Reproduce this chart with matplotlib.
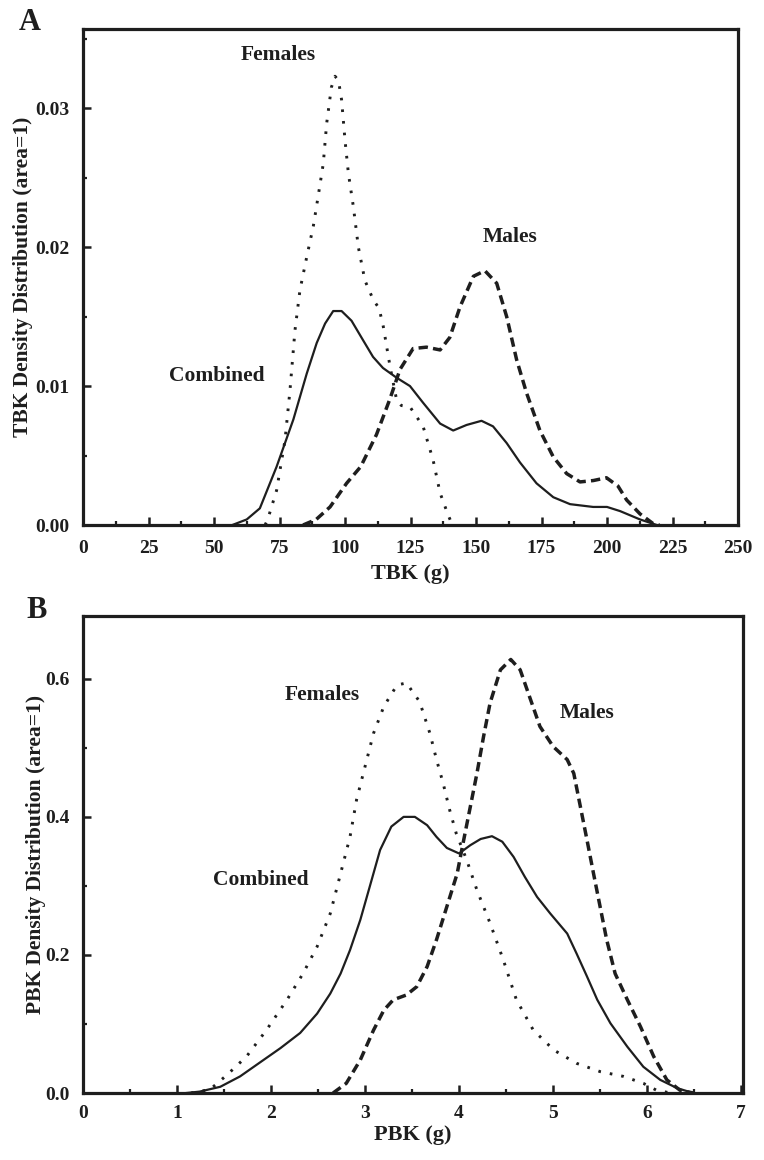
import matplotlib
matplotlib.use("Agg")
import matplotlib.pyplot as plt
from matplotlib.ticker import MultipleLocator, FormatStrFormatter

plt.rcParams['font.family'] = ['Liberation Serif', 'DejaVu Serif']
plt.rcParams['font.weight'] = 'bold'

# ---------------- Panel A data (TBK, g) ----------------
tbk_comb_x = [57, 62.5, 67.5, 73.9, 80.3, 85.4, 89.2, 92.4, 95.5, 98.7, 102.5, 106.9, 110.7,
              114.5, 119.7, 124.8, 129.8, 136.3, 141.3, 146.4, 152.1, 156.5, 161.7, 166.8,
              173.1, 179.5, 185.9, 194.7, 200, 205, 212.6, 219]
tbk_comb_y = [0, 0.0004, 0.0012, 0.0042, 0.0076, 0.0109, 0.0131, 0.0145, 0.0154, 0.0154,
              0.0147, 0.0133, 0.0121, 0.0113, 0.0106, 0.0100, 0.0088, 0.0073, 0.0068, 0.0072,
              0.0075, 0.0071, 0.0059, 0.0045, 0.0030, 0.0020, 0.0015, 0.0013, 0.0013, 0.0010,
              0.0004, 0.0]

tbk_fem_x = [69.5, 70.5, 73.9, 77.1, 79, 80.9, 82.8, 85.4, 87.9, 89.7, 91.7, 93, 94.8, 96.2,
             97.5, 98.7, 100, 101.3, 103.2, 105.1, 107.6, 110.8, 113, 114.6, 117.2, 119.7,
             121.5, 124.8, 129.8, 133.6, 136.3, 139.4, 141]
tbk_fem_y = [0, 0.0004, 0.0025, 0.0061, 0.0097, 0.0140, 0.0169, 0.0193, 0.0215, 0.0236,
             0.0260, 0.0289, 0.0315, 0.0323, 0.0320, 0.0306, 0.0277, 0.0253, 0.0229, 0.0200,
             0.0176, 0.0162, 0.0156, 0.0143, 0.0114, 0.0090, 0.0086, 0.0085, 0.0071, 0.0047,
             0.0023, 0.0007, 0]

tbk_male_x = [84, 89, 94.3, 100.6, 106, 112, 117.2, 121, 126, 131.1, 136.3, 140, 143.9, 149,
              153.4, 157.9, 161.7, 165.5, 169.3, 174.4, 179.5, 184.6, 189.7, 194.8, 199.8,
              204.2, 207.5, 212.6, 217.6, 220]
tbk_male_y = [0, 0.0004, 0.0013, 0.0030, 0.0042, 0.0065, 0.0091, 0.0112, 0.0127, 0.0128,
              0.0126, 0.0135, 0.0157, 0.0179, 0.0183, 0.0174, 0.0150, 0.0119, 0.0095, 0.0068,
              0.0049, 0.0037, 0.0031, 0.0032, 0.0034, 0.0028, 0.0018, 0.0008, 0.0001, 0]

tbk_xticks = [0, 25, 50, 75, 100, 125, 150, 175, 200, 225, 250]
tbk_yticks = [0.00, 0.01, 0.02, 0.03]

# ---------------- Panel B data (PBK, g) ----------------
pbk_comb_x = [1.1, 1.24, 1.46, 1.67, 1.89, 2.10, 2.31, 2.49, 2.63, 2.74, 2.84, 2.95, 3.05,
              3.16, 3.28, 3.41, 3.53, 3.66, 3.76, 3.87, 4.0, 4.12, 4.23, 4.35, 4.46, 4.58,
              4.70, 4.83, 4.97, 5.15, 5.25, 5.36, 5.47, 5.61, 5.79, 5.96, 6.14, 6.32, 6.49]
pbk_comb_y = [0, 0.002, 0.009, 0.024, 0.045, 0.065, 0.087, 0.115, 0.144, 0.173, 0.207, 0.251,
              0.299, 0.352, 0.386, 0.400, 0.400, 0.388, 0.371, 0.355, 0.347, 0.359, 0.368,
              0.372, 0.364, 0.342, 0.313, 0.284, 0.260, 0.231, 0.202, 0.169, 0.135, 0.101,
              0.067, 0.038, 0.019, 0.007, 0]

pbk_fem_x = [1.15, 1.35, 1.53, 1.74, 1.95, 2.17, 2.34, 2.49, 2.63, 2.74, 2.84, 2.91, 3.00,
             3.09, 3.20, 3.34, 3.44, 3.58, 3.69, 3.76, 3.83, 3.90, 3.97, 4.08, 4.19, 4.33,
             4.47, 4.61, 4.79, 5.01, 5.25, 5.50, 5.75, 5.96, 6.10, 6.25]
pbk_fem_y = [0, 0.005, 0.026, 0.053, 0.091, 0.135, 0.173, 0.212, 0.260, 0.318, 0.371, 0.425,
             0.473, 0.521, 0.560, 0.591, 0.594, 0.567, 0.521, 0.483, 0.449, 0.410, 0.376,
             0.338, 0.294, 0.246, 0.193, 0.135, 0.091, 0.062, 0.043, 0.031, 0.024, 0.014,
             0.004, 0]

pbk_male_x = [2.66, 2.80, 2.95, 3.09, 3.20, 3.30, 3.44, 3.55, 3.66, 3.76, 3.87, 3.98, 4.05,
              4.12, 4.19, 4.26, 4.33, 4.44, 4.55, 4.65, 4.76, 4.86, 5.00, 5.15, 5.22, 5.29,
              5.36, 5.43, 5.50, 5.57, 5.66, 5.79, 5.93, 6.07, 6.21, 6.35, 6.49]
pbk_male_y = [0, 0.014, 0.048, 0.091, 0.120, 0.135, 0.142, 0.154, 0.183, 0.222, 0.270, 0.318,
              0.367, 0.415, 0.463, 0.516, 0.565, 0.613, 0.628, 0.613, 0.570, 0.531, 0.502,
              0.483, 0.463, 0.415, 0.367, 0.318, 0.270, 0.222, 0.173, 0.135, 0.096, 0.053,
              0.019, 0.004, 0]

pbk_xticks = [0, 1, 2, 3, 4, 5, 6, 7]
pbk_yticks = [0.0, 0.2, 0.4, 0.6]

INK = '#1e1e1e'
W, H = 764, 1160
fig = plt.figure(figsize=(W / 100, H / 100), dpi=100)

def px_axes(l, t, r, b):
    return fig.add_axes([l / W, 1 - b / H, (r - l) / W, (b - t) / H])

axA = px_axes(83, 29, 738, 525)
axB = px_axes(83, 616, 743, 1093)

solid = dict(color=INK, lw=1.6, ls='-')
dotted = dict(color=INK, lw=2.1, ls=(0, (0.9, 3.1)), dash_capstyle='butt')
dashed = dict(color=INK, lw=2.5, ls=(0, (2.7, 1.5)), dash_capstyle='butt')

lab_kw = dict(fontsize=15.5, fontweight='bold', color=INK, ha='center', va='center')

# Panel A
axA.plot(tbk_comb_x, tbk_comb_y, **solid)
axA.plot(tbk_fem_x, tbk_fem_y, **dotted)
axA.plot(tbk_male_x, tbk_male_y, **dashed)
axA.set_xlim(0, 250)
axA.set_ylim(0, 0.0357)
axA.set_xticks(tbk_xticks)
axA.set_yticks(tbk_yticks)
axA.xaxis.set_minor_locator(MultipleLocator(12.5))
axA.yaxis.set_minor_locator(MultipleLocator(0.005))
axA.yaxis.set_major_formatter(FormatStrFormatter('%.2f'))
axA.set_xlabel('TBK (g)', fontsize=16, fontweight='bold', color=INK, labelpad=5)
axA.set_ylabel('TBK Density Distribution (area=1)', fontsize=15.5, fontweight='bold',
               color=INK, labelpad=1.5)
axA.text(74.4, 0.0338, 'Females', **lab_kw)
axA.text(163, 0.0207, 'Males', **lab_kw)
axA.text(51, 0.0107, 'Combined', **lab_kw)

# Panel B
axB.plot(pbk_comb_x, pbk_comb_y, **solid)
axB.plot(pbk_fem_x, pbk_fem_y, **dotted)
axB.plot(pbk_male_x, pbk_male_y, **dashed)
axB.set_xlim(0, 7.02)
axB.set_ylim(0, 0.691)
axB.set_xticks(pbk_xticks)
axB.set_yticks(pbk_yticks)
axB.xaxis.set_minor_locator(MultipleLocator(0.5))
axB.yaxis.set_minor_locator(MultipleLocator(0.1))
axB.yaxis.set_major_formatter(FormatStrFormatter('%.1f'))
axB.set_xlabel('PBK (g)', fontsize=16, fontweight='bold', color=INK, labelpad=2)
axB.set_ylabel('PBK Density Distribution (area=1)', fontsize=15.5, fontweight='bold',
               color=INK, labelpad=-0.5)
axB.text(2.54, 0.577, 'Females', **lab_kw)
axB.text(5.36, 0.550, 'Males', **lab_kw)
axB.text(1.89, 0.309, 'Combined', **lab_kw)

for ax, xpad in ((axA, 11), (axB, 9)):
    for s in ax.spines.values():
        s.set_linewidth(2.3)
        s.set_color(INK)
    ax.tick_params(which='both', direction='in', top=False, right=False, color=INK,
                   labelcolor=INK)
    ax.tick_params(which='major', length=6, width=1.8, labelsize=14)
    ax.tick_params(axis='y', which='major', pad=9.5)
    ax.tick_params(axis='x', which='major', pad=xpad)
    ax.tick_params(which='minor', length=3, width=1.6)
    for lab in ax.get_xticklabels() + ax.get_yticklabels():
        lab.set_fontweight('bold')

fig.text(30 / W, 1 - 22 / H, 'A', fontsize=22, fontweight='bold', color=INK,
         ha='center', va='center')
fig.text(37 / W, 1 - 610 / H, 'B', fontsize=22, fontweight='bold', color=INK,
         ha='center', va='center')

fig.savefig('out.png', dpi=100, facecolor='white')
